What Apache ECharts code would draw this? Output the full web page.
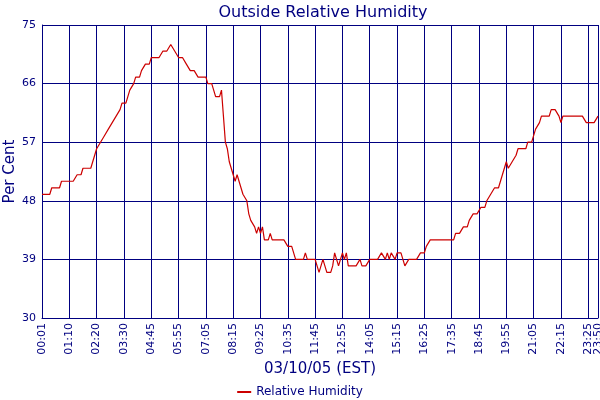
<!DOCTYPE html>
<html>
<head>
<meta charset="utf-8" />
<title>Outside Relative Humidity</title>
<script type="text/javascript" src="https://cdn.jsdelivr.net/npm/echarts@6/dist/echarts.min.js"></script>
<style>
html, body { margin: 0; padding: 0; width: 100%; height: 100%; background: #fff; }
</style>
</head>
<body>
<div id="container" style="width: 600px;height: 400px"></div>
<script>
// relative humidity (%), one reading every ~5 minutes
var rhNight = [49,49,49,49,49, 50,50,50,50,50, 51,51,51,51,51,51,51,51, 52,52,52, 53,53,53,53,53,
	54,55,56,56, 57,57,58,58,59,59,60,60,61,61, 62,63,63,63,64,65,65,66, 67,67,67,68,68,69,69,69,
	70,70,70,70,70,70, 71,71,71,71, 72,72,71,71];
var rhMorning = [70,70,70,70, 69,69,68,68,68,68, 67,67,67,67,67, 66,66,66,65,64,64,64,65,
	61,57,56,54,53,52,51,52,51,50,49,49,48, 46,45,45,44,43,44,43,44, 42,42,42,43,
	42,42,42,42,42,42,42,42, 41,41,41,41, 39,39,39,39,39,40,39,39,39,39];
var rhAfternoon = [39, 38,37,38,39,38,37,37,37,38,40,39,38,39,40,39,40, 38,38,38,38,38,38,39,38,38,38,38,
	39,39,39,39,39,39,40,40,39,40,39,40,40,39,40,40,40,39,38,38, 39,39,39,39,39,39,40,40,40,41,41,
	42,42,42,42,42,42,42,42,42,42,42];
var rhEvening = [42,42, 43,43,43,43,44,44,44,45,45,46,46,46,46,47,47,47,48,48,49,49,50,50,50,51,52,52,
	54,53,53,54,54,55,56,56,56,56,56,57,57,57,58,59,59,60,
	61,61,61,61,61,62,62,62,62,61,60,61,61,61,61,61,61,61,61,61,61,61,61,60,60,60,60,60,60,61];

var tickLabels = ['00:01','01:10','02:20','03:30','04:45','05:55','07:05','08:15','09:25','10:35','11:45',
	'12:55','14:05','15:15','16:25','17:35','18:45','19:55','21:05','22:15','23:25','23:50'];
var tickStep = 14;

var humidity = rhNight.concat(rhMorning, rhAfternoon, rhEvening);
var n = humidity.length;
var slots = [];
for (var i = 0; i < n; i++) {
	slots.push(String(i));
}

function isTick(index) {
	return index % tickStep === 0 || index === n - 1;
}

var navy = '#000080';
var font = 'DejaVu Sans';

var myChart = echarts.init(document.getElementById('container'));
var option = {
	animation: false,
	textStyle: { fontFamily: font },
	title: {
		text: 'Outside Relative Humidity',
		left: 318,
		textAlign: 'center',
		top: 0,
		textStyle: { color: navy, fontSize: 16, fontWeight: 'normal', fontFamily: font }
	},
	legend: {
		top: 381,
		left: 'center',
		icon: 'rect',
		itemWidth: 14,
		itemHeight: 2,
		itemGap: 5,
		textStyle: { color: navy, fontSize: 12, fontFamily: font },
		data: ['Relative Humidity']
	},
	grid: { left: 42, right: 2, top: 25, bottom: 82, containLabel: false, outerBoundsMode: 'none' },
	xAxis: {
		type: 'category',
		data: slots,
		boundaryGap: false,
		name: '03/10/05 (EST)',
		nameLocation: 'middle',
		nameGap: 44,
		nameMoveOverlap: false,
		nameTextStyle: { color: navy, fontSize: 15, fontFamily: font },
		axisLine: { lineStyle: { color: navy } },
		axisTick: { show: false },
		axisLabel: {
			// every slot gets a label, only the tick slots get text
			interval: 0,
			hideOverlap: false,
			rotate: 90,
			color: navy,
			fontSize: 11,
			margin: 5,
			formatter: function (value, index) {
				if (index === n - 1) return tickLabels[tickLabels.length - 1];
				if (index % tickStep === 0) return tickLabels[index / tickStep];
				return '';
			}
		},
		splitLine: { show: true, interval: isTick, lineStyle: { color: navy, width: 1 } }
	},
	yAxis: {
		type: 'value',
		min: 30,
		max: 75,
		interval: 9,
		name: 'Per Cent',
		nameLocation: 'middle',
		nameGap: 24,
		nameMoveOverlap: false,
		nameTextStyle: { color: navy, fontSize: 15, fontFamily: font },
		axisLine: { show: true, lineStyle: { color: navy } },
		axisTick: { show: false },
		axisLabel: { color: navy, fontSize: 11, margin: 6 },
		splitLine: { lineStyle: { color: navy, width: 1 } }
	},
	series: [{
		name: 'Relative Humidity',
		type: 'line',
		data: humidity,
		symbol: 'none',
		lineStyle: { color: '#cc0000', width: 1.2 },
		itemStyle: { color: '#cc0000' }
	}]
};
myChart.setOption(option);
</script>
</body>
</html>
